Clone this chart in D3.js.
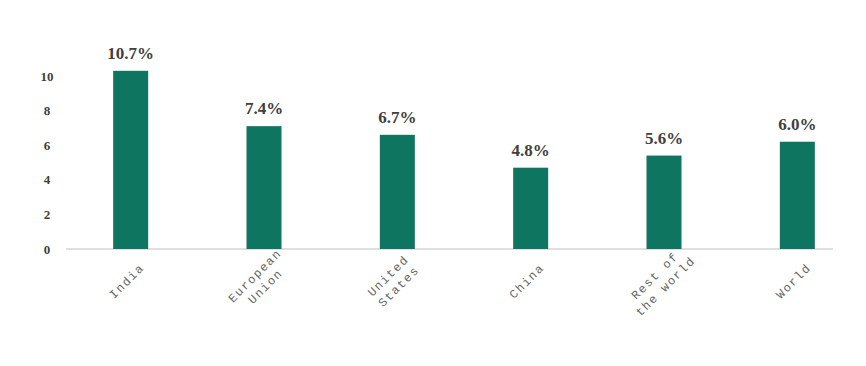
<!DOCTYPE html>
<html>
<head>
<meta charset="utf-8">
<script src="https://cdn.jsdelivr.net/npm/d3@7"></script>
<style>
  body { margin: 0; background: #fff; }
</style>
</head>
<body>
<script>
const categories = [['India'], ['European', 'Union'], ['United', 'States'], ['China'], ['Rest of', 'the world'], ['World']]
const values = [10.3, 7.1, 6.6, 4.7, 5.4, 6.2]
const labels = ['10.7%', '7.4%', '6.7%', '4.8%', '5.6%', '6.0%']
const yTicks = [0, 2, 4, 6, 8, 10]

const width = 866
const height = 366
const baseY = 249
const serif = "'Liberation Serif', 'Times New Roman', serif"

const svg = d3.select('body').append('svg')
  .attr('width', width)
  .attr('height', height)

const names = categories.map(d => d.join(' '))

const xScale = d3.scaleBand()
  .range([64, 864])
  .domain(names)

const yScale = d3.scaleLinear()
  .domain([0, 10])
  .range([baseY, baseY - 173])

const barWidth = 35

// y axis labels only
const yAxis = svg.append('g')
  .attr('transform', 'translate(47,0)')
  .call(d3.axisLeft(yScale).tickValues(yTicks).tickSize(0).tickPadding(0))
yAxis.select('.domain').remove()
yAxis.selectAll('text')
  .attr('text-anchor', 'middle')
  .style('font-family', serif)
  .style('font-weight', 'bold')
  .style('font-size', '13px')
  .style('fill', '#404040')

// baseline
svg.append('line')
  .attr('x1', 66).attr('x2', 833)
  .attr('y1', baseY).attr('y2', baseY)
  .attr('stroke', '#bfbfbf')
  .attr('stroke-width', 1)

const cx = d => xScale(d) + xScale.bandwidth() / 2

svg.selectAll('rect.bar')
  .data(values)
  .enter()
  .append('rect')
  .attr('class', 'bar')
  .attr('x', (d, i) => cx(names[i]) - barWidth / 2)
  .attr('y', d => yScale(d))
  .attr('width', barWidth)
  .attr('height', d => baseY - yScale(d))
  .attr('fill', '#0e7560')

svg.selectAll('text.val')
  .data(values)
  .enter()
  .append('text')
  .attr('class', 'val')
  .attr('x', (d, i) => cx(names[i]))
  .attr('y', d => yScale(d) - 12)
  .attr('text-anchor', 'middle')
  .style('font-family', serif)
  .style('font-weight', 'bold')
  .style('font-size', '17px')
  .style('fill', '#404040')
  .text((d, i) => labels[i])

const cat = svg.selectAll('g.cat')
  .data(categories)
  .enter()
  .append('g')
  .attr('class', 'cat')
  .attr('transform', (d, i) => 'translate(' + (cx(names[i]) - 4) + ',' + 281 + ') rotate(-45)')

cat.each(function (lines) {
  const t = d3.select(this).append('text')
    .attr('text-anchor', 'middle')
    .style('font-family', "'Liberation Mono', monospace")
    .style('font-size', '12px')
    .style('letter-spacing', '1.5px')
    .style('fill', '#666')
  lines.forEach((l, j) => {
    t.append('tspan')
      .attr('x', 0)
      .attr('y', (j - (lines.length - 1) / 2) * 15 + 4)
      .text(l)
  })
})
</script>
</body>
</html>
